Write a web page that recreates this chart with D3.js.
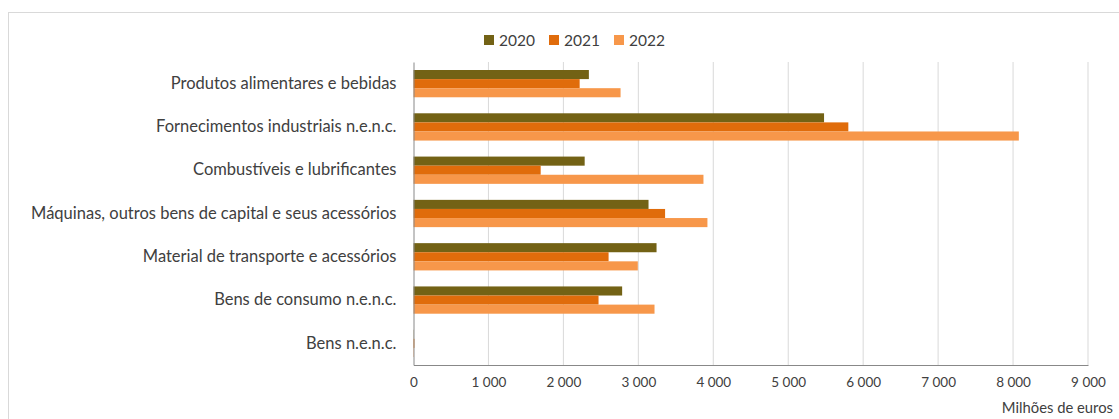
<!DOCTYPE html>
<html>
<head>
<meta charset="utf-8">
<script src="https://cdn.jsdelivr.net/npm/d3@7"></script>
<style>
  body { margin: 0; background: #fff; }
  #chart { width: 1119px; height: 419px; }
  text { font-family: Lato, "Open Sans", sans-serif; fill: #404040; }
</style>
</head>
<body>
<div id="chart"></div>
<script>
// data (millions of euros)
const categories = [
  "Produtos alimentares e bebidas",
  "Fornecimentos industriais n.e.n.c.",
  "Combustíveis e lubrificantes",
  "Máquinas, outros bens de capital e seus acessórios",
  "Material de transporte e acessórios",
  "Bens de consumo n.e.n.c.",
  "Bens n.e.n.c."
];
const years = ["2020", "2021", "2022"];
const values2020 = [2340, 5478, 2284, 3136, 3243, 2784, 3];
const values2021 = [2217, 5802, 1697, 3357, 2603, 2469, 12];
const values2022 = [2763, 8077, 3869, 3922, 2993, 3216, 5];
const xTicks = [0, 1000, 2000, 3000, 4000, 5000, 6000, 7000, 8000, 9000];
const colors = ["#736215", "#e06c0b", "#f7974a"];

const width = 1119, height = 419;
const margin = {top: 62, left: 413.5, right: 31, bottom: 54};

const svg = d3.select("#chart").append("svg")
    .attr("width", width)
    .attr("height", height);

// outer frame
svg.append("rect")
    .attr("x", 8.5).attr("y", 12.5)
    .attr("width", 1200).attr("height", 600)
    .attr("fill", "none")
    .attr("stroke", "#d9d9d9");

const series = [values2020, values2021, values2022];
const rows = categories.map((c, i) => ({cat: c, vals: series.map(s => s[i])}));

const xScale = d3.scaleLinear()
    .domain([0, 9000])
    .range([margin.left, width - margin.right]);

const yScale = d3.scaleBand()
    .domain(categories)
    .range([margin.top, height - margin.bottom])
    .paddingInner(0.37)
    .paddingOuter(0.185);

const inner = d3.scaleBand()
    .domain(years)
    .range([0, yScale.bandwidth()]);

// gridlines
svg.append("g")
    .selectAll("line")
    .data(xTicks.slice(1))
    .enter()
    .append("line")
        .attr("x1", d => xScale(d)).attr("x2", d => xScale(d))
        .attr("y1", margin.top).attr("y2", height - margin.bottom)
        .attr("stroke", "#d9d9d9")
        .attr("stroke-width", 1);

// bars
const groups = svg.selectAll(".grp")
    .data(rows)
    .enter()
    .append("g")
        .attr("class", "grp")
        .attr("transform", d => `translate(0,${yScale(d.cat)})`);

groups.selectAll("rect")
    .data(d => d.vals.map((v, j) => ({year: years[j], v: v, j: j})))
    .enter()
    .append("rect")
        .attr("x", xScale(0))
        .attr("y", d => inner(d.year))
        .attr("width", d => xScale(d.v) - xScale(0))
        .attr("height", inner.bandwidth())
        .attr("fill", d => colors[d.j]);

// axes
const xAxis = svg.append("g")
    .attr("transform", `translate(0,${height - margin.bottom})`)
    .call(d3.axisBottom(xScale)
        .tickValues(xTicks)
        .tickSize(0)
        .tickPadding(12)
        .tickFormat(d => d3.format(",")(d).replace(/,/g, " ")));
xAxis.select(".domain").attr("stroke", "#888");
xAxis.selectAll("text").style("font-size", "13.5px").attr("fill", "#404040");

const yAxis = svg.append("g")
    .attr("transform", `translate(${margin.left},0)`)
    .call(d3.axisLeft(yScale).tickSize(0).tickPadding(17));
yAxis.select(".domain").attr("stroke", "#888");
yAxis.selectAll("text").style("font-size", "16.5px").attr("fill", "#404040");

// unit label
svg.append("text")
    .attr("x", 1113)
    .attr("y", 413)
    .attr("text-anchor", "end")
    .style("font-size", "14.8px")
    .text("Milhões de euros");

// legend
const legend = svg.append("g").selectAll("g")
    .data(years)
    .enter()
    .append("g")
        .attr("transform", (d, i) => `translate(${484 + i * 65},35)`);
legend.append("rect")
    .attr("width", 10).attr("height", 10)
    .attr("fill", (d, i) => colors[i]);
legend.append("text")
    .attr("x", 15).attr("y", 10.5)
    .style("font-size", "15.5px")
    .text(d => d);
</script>
</body>
</html>
